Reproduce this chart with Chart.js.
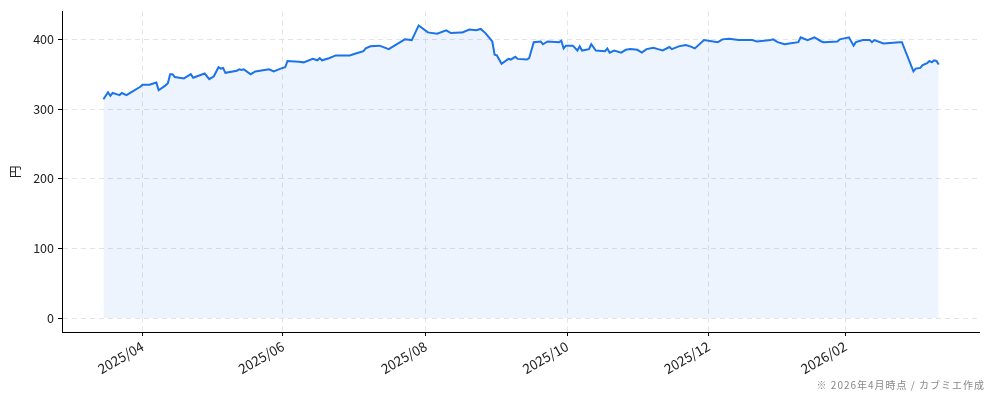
<!DOCTYPE html>
<html>
<head>
<meta charset="utf-8">
<script src="https://cdn.jsdelivr.net/npm/chart.js@4.4.1/dist/chart.umd.min.js"></script>
<style>
  body { margin: 0; background: #fff; }
  #wrap { width: 994px; height: 401px; position: relative; }
</style>
</head>
<body>
<div id="wrap"><canvas id="kabuChart"></canvas></div>
<script>
// 日付は 2025/04/01 からの日数
const days = [
  -17, -15, -14, -13, -11, -10, -9, -7, -5, -1, 0, 3, 6, 7, 10, 11, 12, 13, 14, 18,
  21, 22, 27, 29, 31, 33, 34, 35, 36, 41, 42, 43, 44, 47, 49, 55, 57, 60, 62, 63,
  68, 70, 74, 76, 77, 78, 81, 84, 89, 90, 93, 96, 97, 99, 103, 107, 110, 112, 114, 117,
  120, 124, 128, 132, 134, 138, 139, 142, 145, 147, 149, 152, 153, 154, 156, 159, 160, 162, 163, 167,
  168, 170, 173, 174, 176, 181, 182, 183, 184, 187, 189, 190, 191, 194, 195, 197, 201, 202, 203, 205,
  208, 210, 212, 215, 217, 219, 222, 224, 226, 229, 230, 233, 236, 238, 240, 244, 250, 252, 255, 259,
  265, 267, 273, 274, 276, 279, 281, 285, 286, 289, 292, 295, 296, 302, 303, 307, 309, 310, 313, 316,
  317, 318, 322, 329, 330, 335, 336, 338, 339, 341, 342, 343, 344, 345, 346
];
const prices = [
  314, 324, 319, 323, 321, 320, 323, 320, 324, 332, 335, 335, 338, 327, 334, 337, 350, 350, 346, 344,
  350, 345, 351, 343, 347, 360, 358, 359, 352, 355, 357, 356, 357, 350, 354, 357, 354, 358, 360, 369,
  368, 367, 372, 370, 373, 370, 373, 377, 377, 377, 380, 383, 387, 390, 391, 386, 392, 396, 400, 399,
  420, 410, 408, 413, 409, 410, 410, 414, 413, 415, 409, 397, 378, 377, 365, 372, 371, 375, 372, 371,
  373, 396, 397, 393, 397, 396, 398, 387, 391, 391, 384, 390, 384, 386, 393, 384, 383, 387, 381, 384,
  381, 385, 386, 385, 381, 386, 388, 386, 384, 389, 386, 390, 392, 390, 387, 399, 396, 400, 401, 399,
  399, 397, 399, 400, 396, 393, 394, 396, 403, 399, 403, 397, 396, 397, 400, 403, 391, 396, 399, 399,
  396, 399, 394, 396, 396, 354, 358, 359, 363, 366, 369, 367, 370, 369, 364
];
const tickDays = [0, 61, 123, 184.5, 246, 305.5];
const tickLabels = ['2025/04', '2025/06', '2025/08', '2025/10', '2025/12', '2026/02'];
const yTicks = [0, 100, 200, 300, 400];

const points = days.map((d, i) => ({ x: d, y: prices[i] }));

const footerPlugin = {
  id: 'footerNote',
  afterDraw(chart) {
    const ctx = chart.ctx;
    ctx.save();
    ctx.font = '10px "Noto Sans CJK JP"';
    ctx.letterSpacing = '1px';
    ctx.fillStyle = '#888';
    ctx.textAlign = 'right';
    ctx.textBaseline = 'middle';
    ctx.fillText('※ 2026年4月時点 / カブミエ作成', 985, 385);
    ctx.restore();
  }
};

const tickFont = { family: '"Noto Sans CJK JP"', size: 12.5 };

new Chart(document.getElementById('kabuChart'), {
  type: 'line',
  data: {
    datasets: [{
      data: points,
      borderColor: '#1a73e8',
      borderWidth: 2,
      backgroundColor: 'rgba(26,115,232,0.08)',
      fill: { target: { value: 0 } },
      pointRadius: 0,
      tension: 0
    }]
  },
  options: {
    responsive: true,
    maintainAspectRatio: false,
    animation: false,
    layout: { padding: { top: 10, right: 15, left: 0, bottom: 0 } },
    plugins: {
      legend: { display: false },
      tooltip: { enabled: false }
    },
    scales: {
      x: {
        type: 'linear',
        min: -35,
        max: 363.5,
        afterBuildTicks: (scale) => { scale.ticks = tickDays.map(v => ({ value: v })); },
        afterFit: (scale) => { scale.height = 69; },
        ticks: {
          minRotation: 30,
          maxRotation: 30,
          color: '#222',
          font: { family: '"Noto Sans CJK JP"', size: 13.5 },
          padding: 2,
          callback: (v) => tickLabels[tickDays.indexOf(v)] || ''
        },
        grid: {
          color: '#e3e3e8',
          tickColor: '#000',
          tickLength: 4,
          tickBorderDash: []
        },
        border: { display: true, color: '#000', width: 1, dash: [5, 4] }
      },
      y: {
        min: -20,
        max: 440,
        afterBuildTicks: (scale) => { scale.ticks = yTicks.map(v => ({ value: v })); },
        afterFit: (scale) => { scale.width = 62; },
        title: {
          display: true,
          text: '円',
          color: '#222',
          font: { family: '"Noto Sans CJK JP"', size: 12.5 },
          padding: { top: 8, bottom: 0 }
        },
        ticks: { color: '#222', font: tickFont, padding: 4 },
        grid: {
          color: '#e3e3e8',
          tickColor: '#000',
          tickLength: 4,
          tickBorderDash: []
        },
        border: { display: true, color: '#000', width: 1, dash: [5, 4] }
      }
    }
  },
  plugins: [footerPlugin]
});
</script>
</body>
</html>
